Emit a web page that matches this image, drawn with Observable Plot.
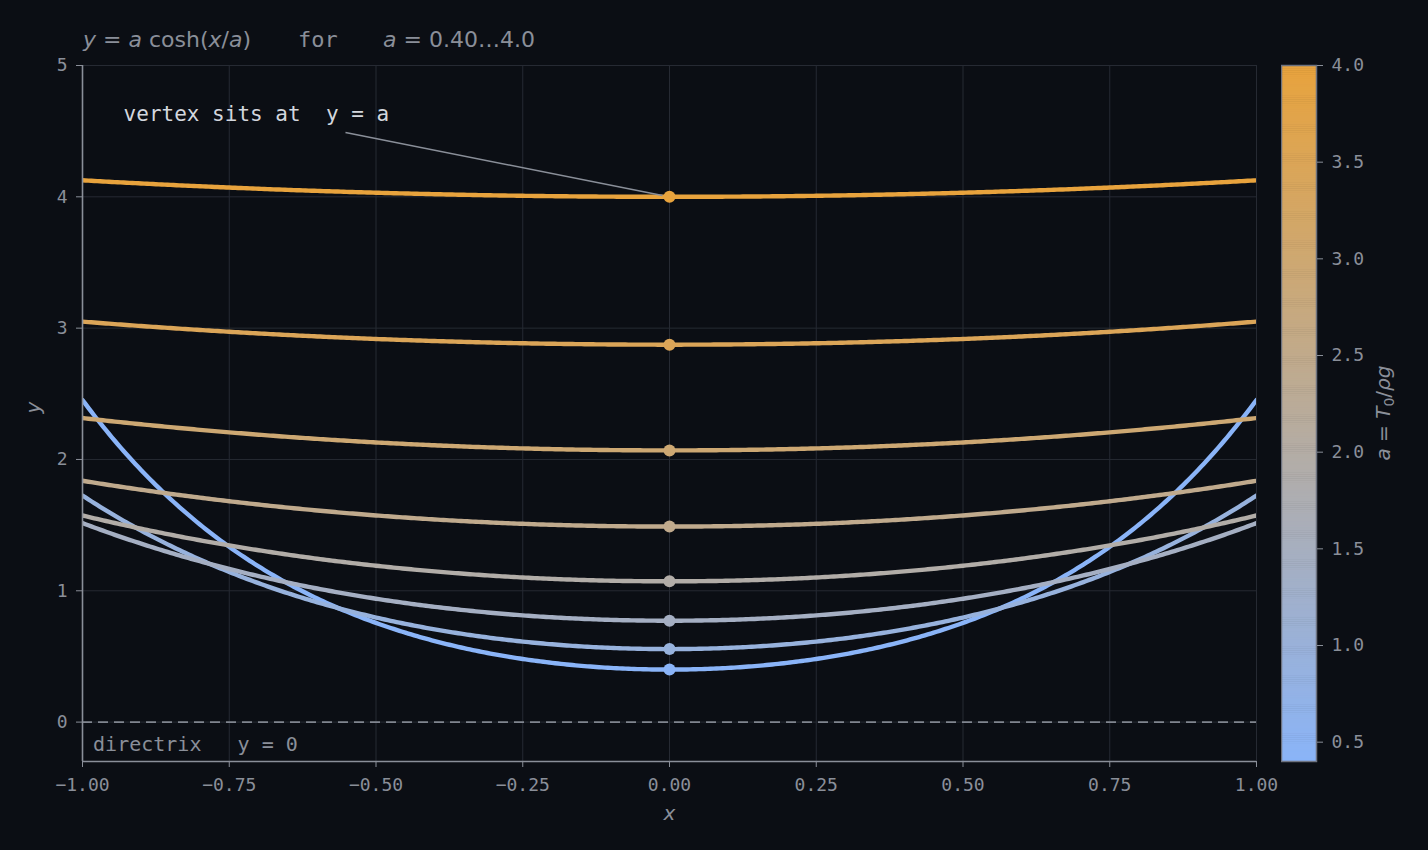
<!DOCTYPE html>
<html>
<head>
<meta charset="utf-8">
<script src="https://cdn.jsdelivr.net/npm/d3@7"></script>
<script src="https://cdn.jsdelivr.net/npm/@observablehq/plot@0.6"></script>
<style>
  html, body { margin: 0; padding: 0; background: #0b0e14; }
  #wrap { position: relative; width: 1428px; height: 850px; background: #0b0e14; overflow: hidden; }
  #wrap > * { position: absolute; }
</style>
</head>
<body>
<div id="wrap"></div>
<script>
// ---- data ----
const aValues = [0.40, 0.556, 0.772, 1.072, 1.489, 2.069, 2.874, 4.00];
const xTicks = [-1, -0.75, -0.5, -0.25, 0, 0.25, 0.5, 0.75, 1];
const yTicks = [0, 1, 2, 3, 4, 5];
const cbTicks = [0.5, 1.0, 1.5, 2.0, 2.5, 3.0, 3.5, 4.0];
const colorRange = ["#8ab4f8", "#e8a33d"];
const xDomain = [-1, 1];
const yDomain = [-0.3, 5];
const aDomain = [0.4, 4.0];

// curve y = a cosh(x/a)
const xs = d3.range(0, 401).map(i => -1 + i / 200);
const curves = aValues.flatMap(a => xs.map(x => ({a, x, y: a * Math.cosh(x / a)})));
const vertices = aValues.map(a => ({a, x: 0, y: a}));

const txt = "#8a8f99";
const mono = "DejaVu Sans Mono";
const sans = "DejaVu Sans";
const wrap = document.getElementById("wrap");

const main = Plot.plot({
  width: 1428, height: 850,
  marginLeft: 82, marginRight: 172, marginTop: 65, marginBottom: 89,
  style: {background: "transparent", color: txt, fontFamily: mono, fontSize: "18px"},
  x: {domain: xDomain},
  y: {domain: yDomain},
  color: {type: "log", domain: aDomain, range: colorRange, interpolate: "rgb"},
  marks: [
    Plot.gridX(xTicks, {stroke: "#262a33", strokeOpacity: 1, strokeWidth: 1}),
    Plot.gridY(yTicks, {stroke: "#262a33", strokeOpacity: 1, strokeWidth: 1}),
    Plot.ruleY([0], {stroke: "#80858f", strokeWidth: 1.6, strokeDasharray: "10,6"}),
    Plot.line(curves, {x: "x", y: "y", z: "a", stroke: "a", strokeWidth: 4.4, clip: true}),
    Plot.link([{x1: -0.552, y1: 4.49, x2: -0.012, y2: 4.01}], {x1: "x1", y1: "y1", x2: "x2", y2: "y2", stroke: txt, strokeWidth: 1.5}),
    Plot.dot(vertices, {x: "x", y: "y", fill: "a", r: 6}),
    Plot.text(["vertex sits at  y = a"], {x: -0.93, y: 4.63, text: d => d, textAnchor: "start", fill: "#d3d7de", fontSize: 21, fontFamily: mono}),
    Plot.text(["directrix   y = 0"], {x: -0.982, y: -0.175, text: d => d, textAnchor: "start", fill: txt, fontSize: 20, fontFamily: mono}),
    Plot.ruleX([-1], {y1: yDomain[0], y2: yDomain[1], stroke: txt, strokeWidth: 1.6}),
    Plot.ruleY([yDomain[0]], {x1: -1, x2: 1, stroke: txt, strokeWidth: 1.6}),
    Plot.axisX(xTicks, {tickFormat: d3.format(".2f"), tickSize: 6, tickPadding: 11, label: null, stroke: txt, fill: txt, fontSize: 18}),
    Plot.axisY(yTicks, {tickFormat: d3.format("d"), tickSize: 6, tickPadding: 9, label: null, stroke: txt, fill: txt, fontSize: 18}),
    Plot.text(["x"], {frameAnchor: "bottom", dy: 58, text: d => d, fontStyle: "italic", fontFamily: sans, fontSize: 20, fill: txt}),
    Plot.text(["y"], {frameAnchor: "left", dx: -49, text: d => d, rotate: -90, fontStyle: "italic", fontFamily: sans, fontSize: 20, fill: txt})
  ]
});
main.style.left = "0px"; main.style.top = "0px";
wrap.appendChild(main);

// ---- colorbar ----
const bands = d3.range(0, 360).map(i => aDomain[0] + i * 0.01);
const cb = Plot.plot({
  width: 147, height: 850,
  marginLeft: 0, marginRight: 112, marginTop: 65, marginBottom: 89,
  style: {background: "transparent", color: txt, fontFamily: mono, fontSize: "18px"},
  x: {domain: [0, 1], axis: null},
  y: {domain: aDomain},
  color: {type: "linear", domain: aDomain, range: colorRange, interpolate: "rgb"},
  marks: [
    Plot.rect(bands, {x1: 0, x2: 1, y1: d => d, y2: d => Math.min(d + 0.013, aDomain[1]), fill: d => d + 0.005}),
    Plot.frame({stroke: "#6e7380", strokeWidth: 1.5}),
    Plot.axisY(cbTicks, {anchor: "right", tickFormat: d3.format(".1f"), tickSize: 6, tickPadding: 9, label: null, stroke: txt, fill: txt, fontSize: 18})
  ]
});
cb.style.left = "1281px"; cb.style.top = "0px";
wrap.appendChild(cb);

// ---- title and colorbar label ----
const ns = "http://www.w3.org/2000/svg";
const over = document.createElementNS(ns, "svg");
over.setAttribute("width", 1428); over.setAttribute("height", 850);
over.style.left = "0px"; over.style.top = "0px"; over.style.pointerEvents = "none";
over.innerHTML = `
<g fill="${txt}" font-size="22" font-family="${sans}">
  <text x="83" y="47"><tspan font-style="italic">y</tspan><tspan> = </tspan><tspan font-style="italic">a</tspan><tspan> cosh(</tspan><tspan font-style="italic">x</tspan><tspan>/</tspan><tspan font-style="italic">a</tspan><tspan>)</tspan></text>
  <text x="298" y="47" font-family="${mono}">for</text>
  <text x="383" y="47"><tspan font-style="italic">a</tspan><tspan> = 0.40…4.0</tspan></text>
  <text transform="translate(1390,413) rotate(-90)" text-anchor="middle" font-size="20"><tspan font-style="italic">a</tspan><tspan> = </tspan><tspan font-style="italic">T</tspan><tspan font-size="14" dy="4">0</tspan><tspan dy="-4">/</tspan><tspan font-style="italic">ρg</tspan></text>
</g>`;
wrap.appendChild(over);
</script>
</body>
</html>
